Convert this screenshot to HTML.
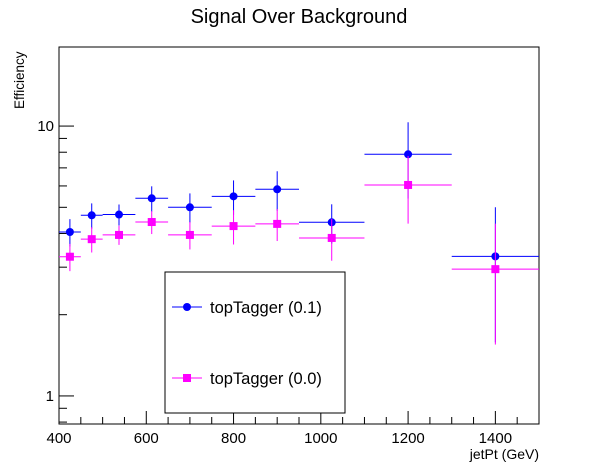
<!DOCTYPE html>
<html><head><meta charset="utf-8"><style>
body{margin:0;background:#fff}
svg{display:block;font-family:"Liberation Sans",sans-serif}
</style></head><body>
<svg id="c" width="598" height="473">
<rect width="598" height="473" fill="#fff"/>
<text x="299" y="23" text-anchor="middle" font-size="20">Signal Over Background</text>
<text transform="translate(24,109) rotate(-90)" font-size="13.5">Efficiency</text>
<text x="539" y="459" text-anchor="end" font-size="14">jetPt (GeV)</text>
<g id="axes"></g>
<g id="marks"></g>
<g>
<rect x="165" y="272" width="180" height="141" fill="#fff" stroke="#000" stroke-width="1"/>
<g>
<line x1="172" y1="307" x2="202" y2="307" stroke="#0000ff" stroke-width="1"/>
<circle cx="187" cy="307" r="4" fill="#0000ff"/>
<text x="210" y="313" font-size="16.5">topTagger (0.1)</text></g>
<g>
<line x1="172" y1="378" x2="202" y2="378" stroke="#ff00ff" stroke-width="1"/>
<rect x="183" y="374" width="8" height="8" fill="#ff00ff"/>
<text x="210" y="384" font-size="16.5">topTagger (0.0)</text></g>
</g>
</svg>
<script>
const binLow=[400,450,500,575,650,750,850,950,1100,1300];
const binHigh=[450,500,575,650,750,850,950,1100,1300,1500];
const blueVals=[4.05,4.67,4.70,5.40,5.00,5.49,5.83,4.40,7.86,3.29];
const blueErrs=[0.47,0.50,0.42,0.58,0.63,0.80,0.97,0.73,2.47,1.71];
const magVals=[3.28,3.81,3.95,4.41,3.95,4.26,4.34,3.85,6.05,2.95];
const magErrs=[0.38,0.41,0.32,0.43,0.46,0.62,0.59,0.68,1.70,1.40];
const xTicks=[400,600,800,1000,1200,1400];
const yTicks=[1,10];

const L=59,R=539,T=47,B=424,XMIN=400,XMAX=1500;
const YMIN=Math.pow(10,-0.104),YMAX=Math.pow(10,1.293);
const NS="http://www.w3.org/2000/svg";
function sx(v){return L+(v-XMIN)/(XMAX-XMIN)*(R-L);}
function sy(v){return B-(Math.log10(v)-Math.log10(YMIN))/(Math.log10(YMAX)-Math.log10(YMIN))*(B-T);}
function mk(tag,attrs,parent){const e=document.createElementNS(NS,tag);for(const k in attrs)e.setAttribute(k,attrs[k]);parent.appendChild(e);return e;}
const axes=document.getElementById('axes'),marks=document.getElementById('marks');
const frame=mk('rect',{x:L,y:T,width:R-L,height:B-T,fill:'none',stroke:'#000','stroke-width':1},axes);


for(let v=400;v<=1500;v+=50){
  const major=(v%200===0);
  const t=mk('line',{x1:sx(v),x2:sx(v),y1:B,y2:B-(major?13:7),stroke:'#000'},axes);
  
  
}
xTicks.forEach(v=>{
  const t=mk('text',{x:sx(v),y:B+19,'text-anchor':'middle','font-size':15},axes);t.textContent=v;
  
  
});
[0.8,0.9,1,2,3,4,5,6,7,8,9,10,20].forEach(v=>{
  if(v<YMIN||v>YMAX)return;
  const major=(v===1||v===10);
  const t=mk('line',{x1:L,x2:L+(major?15:8),y1:sy(v),y2:sy(v),stroke:'#000'},axes);
  
  
});
yTicks.forEach(v=>{
  const t=mk('text',{x:L-5,y:sy(v)+5,'text-anchor':'end','font-size':15},axes);t.textContent=v;
  
  
});
function series(vals,errs,color,shape,name){
  vals.forEach((v,i)=>{
    const g=mk('g',{},marks);
    
    
    const cx=sx((binLow[i]+binHigh[i])/2),cy=sy(v);
    mk('line',{x1:sx(binLow[i]),x2:sx(binHigh[i]),y1:cy,y2:cy,stroke:color,'stroke-width':1},g);
    mk('line',{x1:cx,x2:cx,y1:sy(v+errs[i]),y2:sy(Math.max(v-errs[i],YMIN)),stroke:color,'stroke-width':1},g);
    if(shape==='c')mk('circle',{cx:cx,cy:cy,r:4,fill:color},g);
    else mk('rect',{x:cx-4,y:cy-4,width:8,height:8,fill:color},g);
  });
}
series(blueVals,blueErrs,'#0000ff','c','toptagger-0.1');
series(magVals,magErrs,'#ff00ff','s','toptagger-0.0');
</script>
</body></html>
